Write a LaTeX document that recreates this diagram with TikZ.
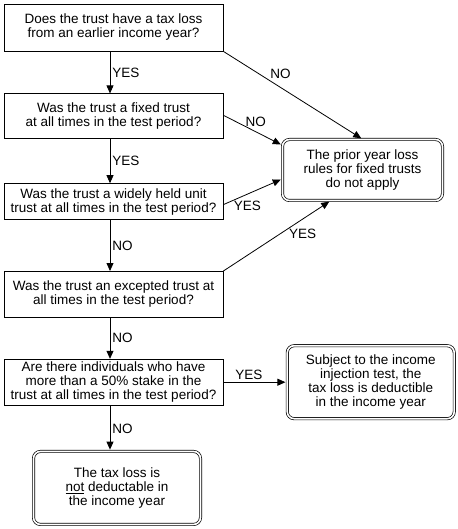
\documentclass[tikz,border=0pt]{standalone}
\usepackage{fontspec}
\setmainfont{Liberation Sans}
\usetikzlibrary{arrows.meta,positioning}
\tikzset{
  question/.style={draw, line width=0.8pt, align=center, inner sep=2pt,
                   minimum width=219pt, minimum height=46pt,
                   font=\fontsize{13.5}{14}\selectfont},
  outcome/.style={draw, double, double distance=1.6pt, line width=0.7pt,
                  rounded corners=7pt, align=center, inner sep=2pt,
                  minimum width=167pt, minimum height=73pt,
                  font=\fontsize{13.5}{14}\selectfont},
  flowarrow/.style={-{Triangle[length=8pt,width=7pt]}, line width=0.8pt},
  answer/.style={font=\fontsize{13.5}{14}\selectfont, inner sep=2pt}
}

\begin{document}
\begin{tikzpicture}[node distance=42pt]
  \useasboundingbox (0,0) rectangle (457pt,-529pt);
  % questions down the left
  \node[question, minimum height=47pt] (q1) at (113.5pt,-27.5pt)
    {Does the trust have a tax loss\\from an earlier income year?};
  \node[question, minimum height=45pt, below=42pt of q1] (q2)
    {Was the trust a fixed trust\\at all times in the test period?};
  \node[question, minimum height=36pt, below=44pt of q2] (q3)
    {Was the trust a widely held unit\\trust at all times in the test period?};
  \node[question, below=51pt of q3] (q4)
    {Was the trust an excepted trust at\\all times in the test period?};
  \node[question, below=41pt of q4] (q5)
    {Are there individuals who have\\more than a 50\% stake in the\\trust at all times in the test period?};
  % outcomes
  \node[outcome, minimum width=160pt, minimum height=61pt] (prior) at (362.5pt,-170pt)
    {The prior year loss\\rules for fixed trusts\\do not apply};
  \node[outcome, right=63.5pt of q5] (subject)
    {Subject to the income\\injection test, the\\tax loss is deductible\\in the income year};
  \node[outcome, below=45.5pt of q5, xshift=3.5pt] (notded)
    {The tax loss is\\\underline{not} deductable in\\the income year};
  % down the spine
  \draw[flowarrow] ([xshift=-3.5pt]q1.south)
    -- node[answer, right]{YES} ([xshift=-3.5pt]q2.north);
  \draw[flowarrow] ([xshift=-3.5pt]q2.south)
    -- node[answer, right]{YES} ([xshift=-3.5pt]q3.north);
  \draw[flowarrow] ([xshift=-3.5pt]q3.south)
    -- node[answer, right]{NO} ([xshift=-3.5pt]q4.north);
  \draw[flowarrow] ([xshift=-3.5pt]q4.south)
    -- node[answer, right]{NO} ([xshift=-3.5pt]q5.north);
  \draw[flowarrow, shorten >=1.5pt] ([xshift=-3.5pt]q5.south)
    -- node[answer, right]{NO} ([xshift=-3.5pt]q5.south |- notded.north);
  % across to the outcomes
  \draw[flowarrow, shorten >=1.5pt] (q1.south east)
    -- node[answer, pos=0.41, above=6pt]{NO} (prior.north);
  \draw[flowarrow, shorten >=1.5pt] ([yshift=1pt]q2.east)
    -- node[answer, pos=0.55, above=3pt]{NO} ([yshift=-6pt]prior.north west);
  \draw[flowarrow, shorten >=1.5pt] ([yshift=-3pt]q3.east)
    -- node[answer, pos=0.41, below=5pt]{YES} ([yshift=-9pt]prior.west);
  \draw[flowarrow, shorten >=1.5pt] (q4.north east)
    -- node[answer, pos=0.74, below=8pt]{YES} ([xshift=-32pt]prior.south);
  \draw[flowarrow, shorten >=1.5pt] (q5.east)
    -- node[answer, pos=0.4, above]{YES} (subject.west);
\end{tikzpicture}
\end{document}
